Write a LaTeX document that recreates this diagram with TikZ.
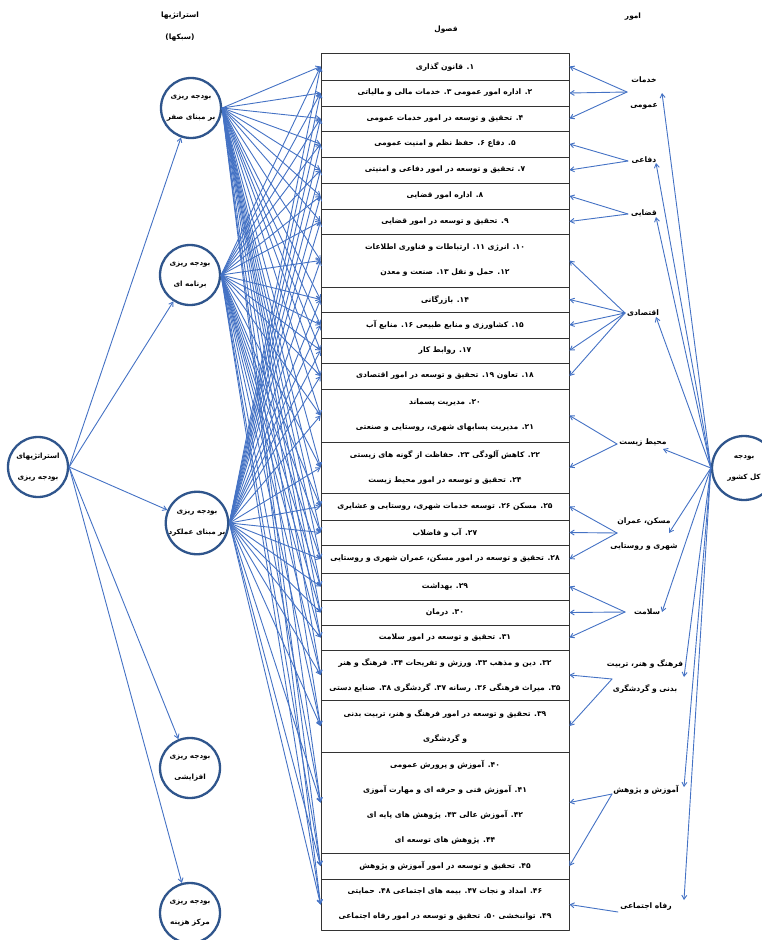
\documentclass[tikz,border=0pt]{standalone}
\usepackage{fontspec}
\usetikzlibrary{arrows.meta}
\TeXXeTstate=1
\newfontfamily\farsi[Script=Arabic]{DejaVu Sans}
\newcommand\fa[1]{\beginR #1\endR}
\definecolor{lineblue}{RGB}{68,114,196}
\definecolor{ringblue}{RGB}{47,85,140}

\begin{document}
\begin{tikzpicture}[x=1pt,y=-1pt,line join=round,line cap=round,
	>={Straight Barb[length=4pt,width=5pt]},
	fasl/.style={draw=black!80,line width=0.9pt,minimum width=248pt,inner sep=0pt,align=center,
		font=\farsi\bfseries\fontsize{7.6}{25}\selectfont},
	sabk/.style={circle,draw=ringblue,line width=2.3pt,fill=white,minimum size=60pt,inner sep=0pt,
		align=center,font=\farsi\bfseries\fontsize{7.2}{21}\selectfont},
	omur/.style={align=center,inner sep=0pt,font=\farsi\bfseries\fontsize{7.6}{25}\selectfont},
	sar/.style={inner sep=0pt,font=\farsi\bfseries\fontsize{7.4}{22}\selectfont,align=center},
	rabt/.style={draw=lineblue,line width=0.9pt}]
	\useasboundingbox (0,0) rectangle (762,940);
	\clip (0,0) rectangle (762,940);
	% titles
	\node[sar] (t-sabk) at (180,27) {\fa{استراتژیها}\\\fa{(سبکها)}};
	\node[sar] (t-fasl) at (446,30) {\fa{فصول}};
	\node[sar] (t-omur) at (633,17) {\fa{امور}};
	% chapters
	\node[fasl,minimum height=27] (r1) at (445,66.5) {\fa{۱. قانون گذاری}};
	\node[fasl,minimum height=26] (r2) at (445,93) {\fa{۲. اداره امور عمومی ۳. خدمات مالی و مالیاتی}};
	\node[fasl,minimum height=25] (r3) at (445,118.5) {\fa{۴. تحقیق و توسعه در امور خدمات عمومی}};
	\node[fasl,minimum height=26] (r4) at (445,144) {\fa{۵. دفاع ۶. حفظ نظم و امنیت عمومی}};
	\node[fasl,minimum height=26] (r5) at (445,170) {\fa{۷. تحقیق و توسعه در امور دفاعی و امنیتی}};
	\node[fasl,minimum height=26] (r6) at (445,196) {\fa{۸. اداره امور قضایی}};
	\node[fasl,minimum height=25] (r7) at (445,221.5) {\fa{۹. تحقیق و توسعه در امور قضایی}};
	\node[fasl,minimum height=53] (r8) at (445,260.5) {\fa{۱۰. انرژی ۱۱. ارتباطات و فناوری اطلاعات}\\\fa{۱۲. حمل و نقل ۱۳. صنعت و معدن}};
	\node[fasl,minimum height=25] (r9) at (445,299.5) {\fa{۱۴. بازرگانی}};
	\node[fasl,minimum height=26] (r10) at (445,325) {\fa{۱۵. کشاورزی و منابع طبیعی ۱۶. منابع آب}};
	\node[fasl,minimum height=25] (r11) at (445,350.5) {\fa{۱۷. روابط کار}};
	\node[fasl,minimum height=26] (r12) at (445,376) {\fa{۱۸. تعاون ۱۹. تحقیق و توسعه در امور اقتصادی}};
	\node[fasl,minimum height=53] (r13) at (445,415.5) {\fa{۲۰. مدیریت پسماند}\\\fa{۲۱. مدیریت پسابهای شهری، روستایی و صنعتی}};
	\node[fasl,minimum height=51] (r14) at (445,467.5) {\fa{۲۲. کاهش آلودگی ۲۳. حفاظت از گونه های زیستی}\\\fa{۲۴. تحقیق و توسعه در امور محیط زیست}};
	\node[fasl,minimum height=27] (r15) at (445,506.5) {\fa{۲۵. مسکن ۲۶. توسعه خدمات شهری، روستایی و عشایری}};
	\node[fasl,minimum height=25] (r16) at (445,532.5) {\fa{۲۷. آب و فاضلاب}};
	\node[fasl,minimum height=28] (r17) at (445,559) {\fa{۲۸. تحقیق و توسعه در امور مسکن، عمران شهری و روستایی}};
	\node[fasl,minimum height=27] (r18) at (445,586.5) {\fa{۲۹. بهداشت}};
	\node[fasl,minimum height=25] (r19) at (445,612.5) {\fa{۳۰. درمان}};
	\node[fasl,minimum height=25] (r20) at (445,637.5) {\fa{۳۱. تحقیق و توسعه در امور سلامت}};
	\node[fasl,minimum height=50] (r21) at (445,675) {\fa{۳۲. دین و مذهب ۳۳. ورزش و تفریحات ۳۴. فرهنگ و هنر}\\\fa{۳۵. میراث فرهنگی ۳۶. رسانه ۳۷. گردشگری ۳۸. صنایع دستی}};
	\node[fasl,minimum height=52] (r22) at (445,726) {\fa{۳۹. تحقیق و توسعه در امور فرهنگ و هنر، تربیت بدنی}\\\fa{و گردشگری}};
	\node[fasl,minimum height=101] (r23) at (445,802.5) {\fa{۴۰. آموزش و پرورش عمومی}\\\fa{۴۱. آموزش فنی و حرفه ای و مهارت آموزی}\\\fa{۴۲. آموزش عالی ۴۳. پژوهش های پایه ای}\\\fa{۴۴. پژوهش های توسعه ای}};
	\node[fasl,minimum height=26] (r24) at (445,866) {\fa{۴۵. تحقیق و توسعه در امور آموزش و پژوهش}};
	\node[fasl,minimum height=51] (r25) at (445,904.5) {\fa{۴۶. امداد و نجات ۴۷. بیمه های اجتماعی ۴۸. حمایتی}\\\fa{۴۹. توانبخشی ۵۰. تحقیق و توسعه در امور رفاه اجتماعی}};
	% strategies
	\node[sabk] (root) at (38,467) {\fa{استراتژیهای}\\\fa{بودجه ریزی}};
	\node[sabk] (s1) at (191,108) {\fa{بودجه ریزی}\\\fa{بر مبنای صفر}};
	\node[sabk] (s2) at (190,275) {\fa{بودجه ریزی}\\\fa{برنامه ای}};
	\node[sabk] (s3) at (197,523) {\fa{بودجه ریزی}\\\fa{بر مبنای عملکرد}};
	\node[sabk] (s4) at (190,768) {\fa{بودجه ریزی}\\\fa{افزایشی}};
	\node[sabk] (s5) at (190,913) {\fa{بودجه ریزی}\\\fa{مرکز هزینه}};
	\node[sabk,minimum size=64pt] (kol) at (744,468) {\fa{بودجه}\\\fa{کل کشور}};
	% affairs
	\node[omur] (kh-lbl) at (644,93) {\fa{خدمات}\\\fa{عمومی}};
	\node[omur] (def-lbl) at (644,160) {\fa{دفاعی}};
	\node[omur] (qaz-lbl) at (644,213) {\fa{قضایی}};
	\node[omur] (eqt-lbl) at (643,313) {\fa{اقتصادی}};
	\node[omur] (mhz-lbl) at (643,443) {\fa{محیط زیست}};
	\node[omur] (msk-lbl) at (644,534) {\fa{مسکن، عمران}\\\fa{شهری و روستایی}};
	\node[omur] (slm-lbl) at (647,612) {\fa{سلامت}};
	\node[omur] (frh-lbl) at (645,676) {\fa{فرهنگ و هنر، تربیت}\\\fa{بدنی و گردشگری}};
	\node[omur] (amz-lbl) at (646,790) {\fa{آموزش و پژوهش}};
	\node[omur] (rfh-lbl) at (646,907) {\fa{رفاه اجتماعی}};
	\coordinate (kh) at (627,92);   \coordinate (kh-tip) at (662,93);
	\coordinate (def) at (628,161); \coordinate (def-tip) at (656,163);
	\coordinate (qaz) at (628,214); \coordinate (qaz-tip) at (656,217);
	\coordinate (eqt) at (625,313); \coordinate (eqt-tip) at (656,317);
	\coordinate (mhz) at (617,444); \coordinate (mhz-tip) at (663,449);
	\coordinate (msk) at (617,533); \coordinate (msk-tip) at (669,533);
	\coordinate (slm) at (625,612); \coordinate (slm-tip) at (662,612);
	\coordinate (frh) at (612,679); \coordinate (frh-tip) at (684,677);
	\coordinate (amz) at (612,794); \coordinate (amz-tip) at (684,787);
	\coordinate (rfh) at (618,912); \coordinate (rfh-tip) at (684,900);
	% connectors
	\foreach \s in {s1,s2,s3,s4,s5}
		\draw[rabt,->] (root.east) -- (\s);
	\foreach \s in {s1,s2,s3}
		\foreach \r in {1,...,25}
			\draw[rabt,->] (\s.east) -- (r\r.west);
	\foreach \p/\r in {kh/1,kh/2,kh/3,def/4,def/5,qaz/6,qaz/7,eqt/8,eqt/9,eqt/10,eqt/11,eqt/12,
		mhz/13,mhz/14,msk/15,msk/16,msk/17,slm/18,slm/19,slm/20,frh/21,frh/22,amz/23,amz/24,rfh/25}
		\draw[rabt,->] (\p) -- (r\r.east);
	\foreach \p in {kh,def,qaz,eqt,mhz,msk,slm,frh,amz,rfh}
		\draw[rabt,->] (kol.west) -- (\p-tip);
\end{tikzpicture}
\end{document}
